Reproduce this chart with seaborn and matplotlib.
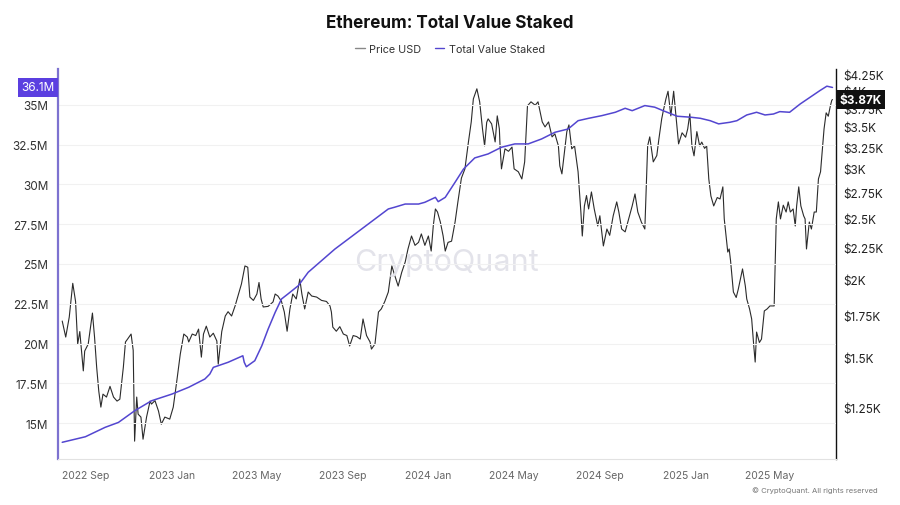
import numpy as np
import pandas as pd
import matplotlib
matplotlib.use("Agg")
import matplotlib.pyplot as plt
import matplotlib.transforms as mtransforms
from matplotlib.ticker import FixedLocator, NullLocator
from matplotlib.lines import Line2D
import seaborn as sns

# ---------------- data ----------------
price_dates = [
    "2022-07-29","2022-08-03","2022-08-08","2022-08-13","2022-08-17","2022-08-20","2022-08-23","2022-08-28",
    "2022-08-30","2022-09-04","2022-09-10","2022-09-13","2022-09-16","2022-09-19","2022-09-22","2022-09-25",
    "2022-09-30","2022-10-05","2022-10-10","2022-10-15","2022-10-19","2022-10-24","2022-10-27","2022-10-30",
    "2022-11-04","2022-11-07","2022-11-09","2022-11-12","2022-11-14","2022-11-18","2022-11-21","2022-11-26",
    "2022-12-01","2022-12-03","2022-12-08","2022-12-13","2022-12-17","2022-12-22","2022-12-29","2023-01-03",
    "2023-01-08","2023-01-13","2023-01-18","2023-01-23","2023-01-25","2023-01-30","2023-02-04","2023-02-08",
    "2023-02-12","2023-02-15","2023-02-19","2023-02-24","2023-03-01","2023-03-06","2023-03-08","2023-03-13",
    "2023-03-18","2023-03-22","2023-03-27","2023-04-01","2023-04-05","2023-04-10","2023-04-15","2023-04-19",
    "2023-04-22","2023-04-27","2023-05-02","2023-05-05","2023-05-08","2023-05-11","2023-05-18","2023-05-25",
    "2023-05-28","2023-06-01","2023-06-06","2023-06-10","2023-06-14","2023-06-18","2023-06-22","2023-06-27",
    "2023-07-02","2023-07-05","2023-07-09","2023-07-14","2023-07-19","2023-07-26","2023-08-02","2023-08-09",
    "2023-08-14","2023-08-16","2023-08-18","2023-08-23","2023-08-28","2023-09-02","2023-09-07","2023-09-11",
    "2023-09-16","2023-09-21","2023-09-26","2023-09-30","2023-10-05","2023-10-10","2023-10-12","2023-10-17",
    "2023-10-22","2023-10-26","2023-10-31","2023-11-05","2023-11-10","2023-11-14","2023-11-19","2023-11-24",
    "2023-11-29","2023-12-03","2023-12-08","2023-12-13","2023-12-18","2023-12-22","2023-12-27","2024-01-01",
    "2024-01-05","2024-01-08","2024-01-11","2024-01-14","2024-01-18","2024-01-22","2024-01-25","2024-01-29",
    "2024-02-03","2024-02-08","2024-02-12","2024-02-17","2024-02-22","2024-02-27","2024-03-02","2024-03-05",
    "2024-03-10","2024-03-14","2024-03-18","2024-03-21","2024-03-24","2024-03-26","2024-03-31","2024-04-05",
    "2024-04-08","2024-04-11","2024-04-12","2024-04-14","2024-04-19","2024-04-24","2024-04-29","2024-05-02",
    "2024-05-08","2024-05-13","2024-05-17","2024-05-21","2024-05-26","2024-06-01","2024-06-05","2024-06-08",
    "2024-06-11","2024-06-15","2024-06-20","2024-06-25","2024-06-29","2024-07-04","2024-07-06","2024-07-09",
    "2024-07-12","2024-07-16","2024-07-19","2024-07-23","2024-07-27","2024-08-01","2024-08-05","2024-08-07",
    "2024-08-10","2024-08-13","2024-08-16","2024-08-20","2024-08-24","2024-08-29","2024-09-01","2024-09-06",
    "2024-09-11","2024-09-15","2024-09-20","2024-09-25","2024-09-28","2024-10-02","2024-10-07","2024-10-12",
    "2024-10-17","2024-10-21","2024-10-25","2024-10-30","2024-11-04","2024-11-08","2024-11-11","2024-11-16",
    "2024-11-21","2024-11-24","2024-11-28","2024-11-30","2024-12-04","2024-12-07","2024-12-11","2024-12-15",
    "2024-12-19","2024-12-22","2024-12-27","2025-01-01","2025-01-04","2025-01-07","2025-01-10","2025-01-13",
    "2025-01-17","2025-01-21","2025-01-24","2025-01-28","2025-01-31","2025-02-03","2025-02-06","2025-02-10",
    "2025-02-15","2025-02-19","2025-02-23","2025-02-25","2025-02-28","2025-03-02","2025-03-04","2025-03-06",
    "2025-03-10","2025-03-14","2025-03-17","2025-03-21","2025-03-23","2025-03-27","2025-03-29","2025-04-02",
    "2025-04-05","2025-04-08","2025-04-10","2025-04-12","2025-04-16","2025-04-19","2025-04-23","2025-04-27",
    "2025-05-01","2025-05-07","2025-05-10","2025-05-13","2025-05-16","2025-05-20","2025-05-24","2025-05-27",
    "2025-05-30","2025-06-03","2025-06-06","2025-06-08","2025-06-11","2025-06-14","2025-06-18","2025-06-20",
    "2025-06-22","2025-06-26","2025-06-29","2025-07-03","2025-07-06","2025-07-09","2025-07-12","2025-07-15",
    "2025-07-17","2025-07-20","2025-07-23","2025-07-26","2025-07-28","2025-07-29",
]
price_usd = [
    1715,1617,1740,1970,1843,1576,1650,1428,
    1536,1576,1766,1617,1448,1326,1250,1311,
    1297,1349,1297,1278,1287,1448,1588,1605,
    1635,1540,1103,1297,1218,1205,1111,1205,
    1278,1264,1280,1232,1174,1205,1196,1250,
    1375,1519,1635,1617,1588,1635,1626,1665,
    1502,1635,1683,1617,1640,1594,1464,1650,
    1747,1775,1747,1813,1880,1965,2100,2090,
    1873,1850,1894,1976,1860,1806,1810,1840,
    1894,1880,1843,1773,1652,1793,1894,1860,
    2001,1894,1793,1908,1880,1873,1850,1843,
    1813,1773,1677,1652,1680,1635,1626,1565,
    1626,1620,1605,1728,1626,1588,1547,1576,
    1773,1793,1843,1908,2100,2030,1950,2050,
    2130,2235,2344,2265,2290,2362,2265,2344,
    2218,2435,2589,2560,2468,2344,2218,2290,
    2300,2468,2657,2900,3000,3312,3565,3880,
    4026,3838,3475,3264,3560,3605,3539,3312,
    3645,3475,3264,3000,3229,3200,3250,3000,
    2968,2891,3078,3782,3838,3790,3838,3700,
    3565,3500,3565,3374,3412,3264,3033,2945,
    3150,3440,3526,3229,3265,2968,2560,2344,
    2618,2720,2589,2756,2589,2432,2525,2260,
    2405,2350,2525,2657,2560,2405,2380,2496,
    2618,2736,2560,2468,2405,3264,3374,3078,
    3150,3349,3605,3700,3880,3990,3645,3990,
    3565,3288,3425,3370,3475,3672,3264,3147,
    3440,3264,3310,3235,3264,2891,2715,2618,
    2700,2686,2808,2496,2319,2210,2235,2139,
    1908,1870,1929,2024,2077,1950,1860,1793,
    1728,1565,1475,1647,1585,1605,1780,1793,
    1813,1813,2496,2657,2496,2625,2560,2657,
    2560,2589,2432,2618,2808,2618,2524,2496,
    2235,2468,2405,2560,2560,2891,2968,3264,
    3475,3686,3640,3782,3860,3870,
]

staked_dates = [
    "2022-07-29","2022-08-31","2022-09-28","2022-10-17","2022-11-09","2022-12-03","2023-01-01","2023-01-25",
    "2023-02-17","2023-02-24","2023-03-01","2023-03-22","2023-04-12","2023-04-14","2023-04-17","2023-04-29",
    "2023-05-09","2023-05-18","2023-05-28","2023-06-06","2023-06-15","2023-06-30","2023-07-14","2023-08-02",
    "2023-08-21","2023-09-09","2023-09-28","2023-10-17","2023-11-05","2023-11-14","2023-11-29","2023-12-18",
    "2023-12-27","2024-01-11","2024-01-15","2024-01-25","2024-02-08","2024-02-20","2024-03-07","2024-03-26",
    "2024-04-14","2024-05-03","2024-05-22","2024-06-10","2024-06-29","2024-07-18","2024-08-01","2024-08-16",
    "2024-09-04","2024-09-23","2024-10-07","2024-10-17","2024-11-04","2024-11-18","2024-11-30","2024-12-20",
    "2025-01-08","2025-01-22","2025-02-05","2025-02-17","2025-03-05","2025-03-15","2025-03-29","2025-04-12",
    "2025-04-24","2025-05-06","2025-05-15","2025-05-29","2025-06-13","2025-06-27","2025-07-11","2025-07-21",
    "2025-07-28","2025-07-29",
]
staked_m = [
    13.79,14.14,14.73,15.04,15.77,16.40,16.82,17.25,
    17.77,18.08,18.50,18.82,19.23,18.82,18.54,18.92,
    19.86,20.91,21.96,22.80,23.11,23.64,24.48,25.21,
    25.94,26.57,27.20,27.83,28.46,28.57,28.77,28.77,
    28.88,29.19,28.92,29.19,30.14,30.97,31.67,31.92,
    32.34,32.55,32.55,32.86,33.28,33.49,34.01,34.16,
    34.33,34.54,34.79,34.64,34.96,34.86,34.64,34.29,
    34.23,34.16,34.01,33.81,33.91,34.01,34.37,34.54,
    34.37,34.43,34.58,34.54,35.06,35.48,35.90,36.18,
    36.11,36.10,
]

left_ticks = [15, 17.5, 20, 22.5, 25, 27.5, 30, 32.5, 35]
left_labels = ["15M", "17.5M", "20M", "22.5M", "25M", "27.5M", "30M", "32.5M", "35M"]
right_ticks = [1250, 1500, 1750, 2000, 2250, 2500, 2750, 3000, 3250, 3500, 3750, 4000, 4250]
right_labels = ["$1.25K", "$1.5K", "$1.75K", "$2K", "$2.25K", "$2.5K", "$2.75K", "$3K",
                "$3.25K", "$3.5K", "$3.75K", "$4K", "$4.25K"]
x_tick_dates = ["2022-09-01", "2023-01-01", "2023-05-01", "2023-09-01", "2024-01-01",
                "2024-05-01", "2024-09-01", "2025-01-01", "2025-05-01"]
x_tick_labels = ["2022 Sep", "2023 Jan", "2023 May", "2023 Sep", "2024 Jan",
                 "2024 May", "2024 Sep", "2025 Jan", "2025 May"]
last_staked_label = "36.1M"
last_price_label = "$3.87K"
last_staked_value = 36.1
last_price_value = 3870

# ---------------- styling ----------------
sns.set_theme(style="white")
plt.rcParams["font.family"] = ["Inter", "DejaVu Sans"]

STAKED_C = "#5346d0"
PRICE_C = "#2b2b2b"

price_df = pd.DataFrame({"date": pd.to_datetime(price_dates), "price": price_usd})
staked_df = pd.DataFrame({"date": pd.to_datetime(staked_dates), "staked": staked_m})

fig = plt.figure(figsize=(9, 5.06), dpi=100)
ax = fig.add_axes([58/900, 1-460/506, (836-58)/900, (460-70)/506])
ax2 = ax.twinx()

sns.lineplot(data=staked_df, x="date", y="staked", ax=ax, color=STAKED_C, lw=1.1, zorder=3)
sns.lineplot(data=price_df, x="date", y="price", ax=ax2, color=PRICE_C, lw=0.8, zorder=2)

ax.set_zorder(ax2.get_zorder() + 1)
ax.patch.set_visible(False)

# x axis
ax.set_xlim(pd.Timestamp("2022-07-23"), pd.Timestamp("2025-08-03"))
ax.set_xticks(pd.to_datetime(x_tick_dates))
ax.set_xticklabels(x_tick_labels)
ax.tick_params(axis="x", colors="#dddddd", labelcolor="#666666", labelsize=7.5,
               length=3, width=0.8, direction="out", pad=5)
ax.set_xlabel("")
ax2.set_xlabel("")

# left axis
ax.set_ylim(12.74, 37.26)
ax.set_yticks(left_ticks)
ax.set_yticklabels(left_labels)
ax.tick_params(axis="y", length=0, labelsize=8.5, labelcolor="#333333", pad=7)
ax.set_ylabel("")
ax.yaxis.grid(True, color="#f1f1f1", lw=0.8)
ax.xaxis.grid(False)

# right axis (log)
ax2.set_yscale("log")
ax2.set_ylim(1033, 4330)
ax2.yaxis.set_major_locator(FixedLocator(right_ticks))
ax2.yaxis.set_minor_locator(NullLocator())
ax2.set_yticklabels(right_labels)
ax2.tick_params(axis="y", length=0, labelsize=8.5, labelcolor="#222222", pad=5)
ax2.set_ylabel("")
ax2.grid(False)

ax.spines["top"].set_visible(False)
ax2.spines["top"].set_visible(False)
ax.spines["right"].set_visible(False)
ax2.spines["left"].set_visible(False)
ax2.spines["bottom"].set_visible(False)
ax.spines["left"].set_color("#7d72d0")
ax.spines["left"].set_linewidth(1.6)
ax2.spines["right"].set_color("#111111")
ax2.spines["right"].set_linewidth(1.0)
ax.spines["bottom"].set_color("#e2e2e2")
ax.spines["bottom"].set_linewidth(0.8)

# last-value labels
tl = mtransforms.blended_transform_factory(ax.transAxes, ax.transData)
ax.text(-0.004, last_staked_value, last_staked_label, transform=tl, ha="right", va="center",
        color="white", fontsize=8.5, zorder=10, clip_on=False,
        bbox=dict(boxstyle="square,pad=0.3", fc="#5b3fe0", ec="none"))
tr = mtransforms.blended_transform_factory(ax2.transAxes, ax2.transData)
ax2.text(1.004, last_price_value, last_price_label, transform=tr, ha="left", va="center",
         color="white", fontsize=8.5, fontweight="bold", zorder=10, clip_on=False,
         bbox=dict(boxstyle="square,pad=0.3", fc="#111111", ec="none"))

# watermark
ax.text(0.500, 0.505, "CryptoQuant", transform=ax.transAxes, ha="center", va="center",
        fontsize=22, color="#e3e3ea", zorder=0)

# title and legend
fig.text(0.5, 1-24/506, "Ethereum: Total Value Staked", ha="center", va="center",
         fontsize=12.3, fontweight="bold", color="#111111")
handles = [Line2D([0], [0], color="#888888", lw=1.0),
           Line2D([0], [0], color=STAKED_C, lw=1.0)]
fig.legend(handles, ["Price USD", "Total Value Staked"], loc="center",
           bbox_to_anchor=(0.5, 1-50/506), ncol=2, frameon=False, fontsize=7.8,
           handlelength=0.9, handletextpad=0.4, columnspacing=1.2, labelcolor="#333333")

# footer
fig.text(878/900, 1-491/506, "© CryptoQuant. All rights reserved", ha="right", va="center",
         fontsize=5.5, color="#777777")

fig.savefig("out.png", dpi=100)
